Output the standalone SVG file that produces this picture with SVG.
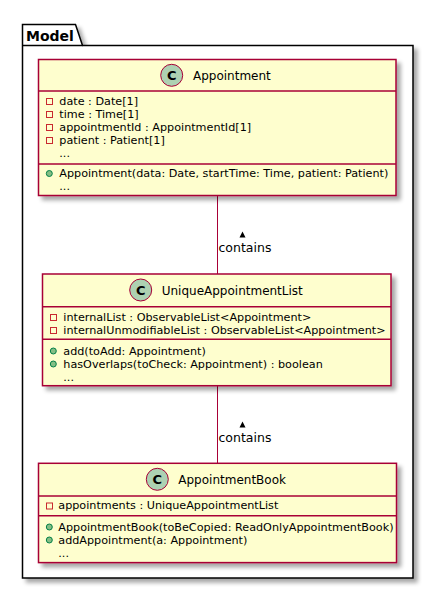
<svg xmlns="http://www.w3.org/2000/svg" width="433" height="589" viewBox="0 0 433 589">
<defs>
<filter id="sh" x="-5%" y="-5%" width="115%" height="115%">
<feGaussianBlur in="SourceAlpha" stdDeviation="2" result="b"/>
<feOffset in="b" dx="4" dy="4" result="o"/>
<feComponentTransfer in="o" result="c"><feFuncA type="linear" slope="0.35"/></feComponentTransfer>
<feMerge><feMergeNode in="c"/><feMergeNode in="SourceGraphic"/></feMerge>
</filter>
</defs>
<style>
.box{fill:#FEFECE;stroke:#A80036;stroke-width:1.5}
.div{stroke:#A80036;stroke-width:1.5}
.circ{fill:#ADD1B2;stroke:#A80036;stroke-width:1}
.cl{font-family:"DejaVu Sans",sans-serif;font-size:12px;fill:#000}
.cc{font-family:"DejaVu Sans",sans-serif;font-size:13px;font-weight:bold;fill:#000}
.m{font-family:"DejaVu Sans",sans-serif;font-size:11.2px;fill:#000}
.lbl{font-family:"DejaVu Sans",sans-serif;font-size:12.5px;fill:#000}
.priv{fill:none;stroke:#C82930;stroke-width:1}
.pub{fill:#84BE84;stroke:#038048;stroke-width:1}
.edge{stroke:#A80036;stroke-width:1;fill:none}
.pkg{fill:#FFFFFF;stroke:#000;stroke-width:1.5}
</style>
<g id="Model">
<path class="pkg" filter="url(#sh)" d="M22.5,24.5 H75.5 L82.5,45.5 H413 V578 H22.5 Z"/>
<line x1="22.5" y1="45.5" x2="82.5" y2="45.5" stroke="#000" stroke-width="1.5"/>
<text x="26" y="41" style="font-family:'DejaVu Sans',sans-serif;font-size:14px;font-weight:bold">Model</text>
</g>
<g id="connectors">
<line class="edge" x1="217.5" y1="196" x2="217.5" y2="274"/>
<polygon points="239.5,237.5 242.5,231.5 245.5,237.5" fill="#000"/>
<text class="lbl" x="218.5" y="252.3">contains</text>
<line class="edge" x1="217.5" y1="386" x2="217.5" y2="463.5"/>
<polygon points="239.5,427.5 242.5,421.5 245.5,427.5" fill="#000"/>
<text class="lbl" x="218.5" y="441.7">contains</text>
</g>
<g id="Appointment">
<rect class="box" filter="url(#sh)" x="38.5" y="59.5" width="357.5" height="136"/>
<circle class="circ" cx="171.7" cy="75.3" r="11"/>
<text class="cc" x="171.7" y="80" text-anchor="middle">C</text>
<text class="cl" x="193" y="80">Appointment</text>
<line class="div" x1="38.5" y1="91" x2="396" y2="91"/>
<rect class="priv" x="46.5" y="98.5" width="6" height="6"/>
<text class="m" x="59.3" y="104.5">date : Date[1]</text>
<rect class="priv" x="46.5" y="111.5" width="6" height="6"/>
<text class="m" x="59.3" y="117.5">time : Time[1]</text>
<rect class="priv" x="46.5" y="124.5" width="6" height="6"/>
<text class="m" x="59.3" y="130.5">appointmentId : AppointmentId[1]</text>
<rect class="priv" x="46.5" y="137.5" width="6" height="6"/>
<text class="m" x="59.3" y="143.5">patient : Patient[1]</text>
<text class="m" x="59.3" y="156.5">...</text>
<line class="div" x1="38.5" y1="164" x2="396" y2="164"/>
<circle class="pub" cx="49.3" cy="173.5" r="3"/>
<text class="m" x="59.3" y="176.5">Appointment(data: Date, startTime: Time, patient: Patient)</text>
<text class="m" x="59.3" y="189.5">...</text>
</g>
<g id="UniqueAppointmentList">
<rect class="box" filter="url(#sh)" x="42.5" y="274" width="348.5" height="111.7"/>
<circle class="circ" cx="140.7" cy="290" r="11"/>
<text class="cc" x="140.7" y="294.7" text-anchor="middle">C</text>
<text class="cl" x="161.7" y="294.7">UniqueAppointmentList</text>
<line class="div" x1="42.5" y1="306.7" x2="391" y2="306.7"/>
<rect class="priv" x="50.5" y="314.5" width="6" height="6"/>
<text class="m" x="63.3" y="320.5">internalList : ObservableList&lt;Appointment&gt;</text>
<rect class="priv" x="50.5" y="327.5" width="6" height="6"/>
<text class="m" x="63.3" y="333.5">internalUnmodifiableList : ObservableList&lt;Appointment&gt;</text>
<line class="div" x1="42.5" y1="339.3" x2="391" y2="339.3"/>
<circle class="pub" cx="53.3" cy="351" r="3"/>
<text class="m" x="63.3" y="354.5">add(toAdd: Appointment)</text>
<circle class="pub" cx="53.3" cy="364" r="3"/>
<text class="m" x="63.3" y="367.5">hasOverlaps(toCheck: Appointment) : boolean</text>
<text class="m" x="63.3" y="380.5">...</text>
</g>
<g id="AppointmentBook">
<rect class="box" filter="url(#sh)" x="38.5" y="463.3" width="358" height="99.3"/>
<circle class="circ" cx="157.3" cy="479.3" r="11"/>
<text class="cc" x="157.3" y="484" text-anchor="middle">C</text>
<text class="cl" x="178.3" y="484">AppointmentBook</text>
<line class="div" x1="38.5" y1="496" x2="396.5" y2="496"/>
<rect class="priv" x="46.5" y="503" width="6" height="6"/>
<text class="m" x="58.3" y="509">appointments : UniqueAppointmentList</text>
<line class="div" x1="38.5" y1="515.7" x2="396.5" y2="515.7"/>
<circle class="pub" cx="49.3" cy="527" r="3"/>
<text class="m" x="58.3" y="530.5">AppointmentBook(toBeCopied: ReadOnlyAppointmentBook)</text>
<circle class="pub" cx="49.3" cy="540" r="3"/>
<text class="m" x="58.3" y="543.5">addAppointment(a: Appointment)</text>
<text class="m" x="58.3" y="556.5">...</text>
</g>
</svg>
